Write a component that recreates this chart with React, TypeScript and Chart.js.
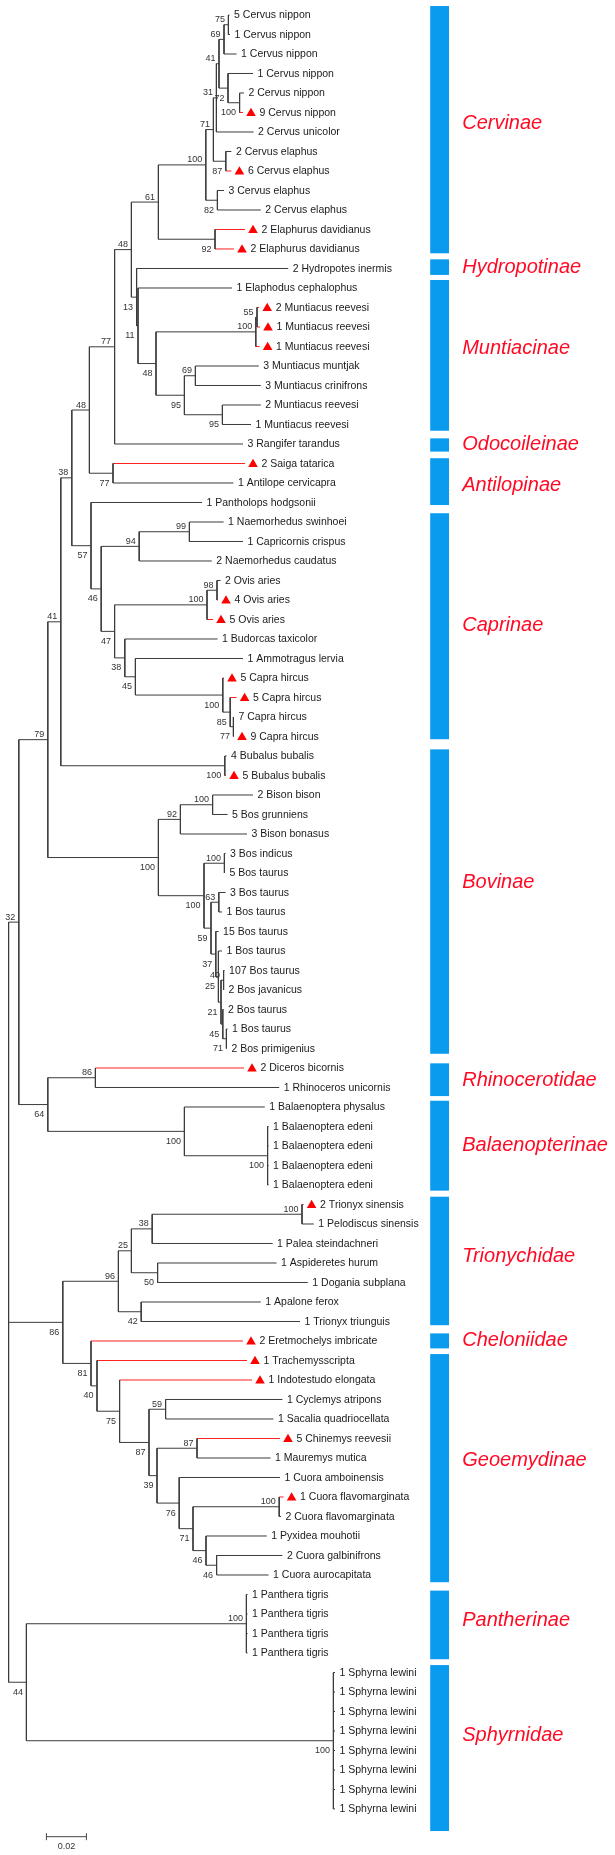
import React, { useEffect, useRef } from "react";
import { Chart, registerables } from "chart.js";
Chart.register(...registerables);

// ---------- DATA ----------
const leafNames: string[] = [
  "5 Cervus nippon", "1 Cervus nippon", "1 Cervus nippon", "1 Cervus nippon", "2 Cervus nippon",
  "9 Cervus nippon", "2 Cervus unicolor", "2 Cervus elaphus", "6 Cervus elaphus", "3 Cervus elaphus",
  "2 Cervus elaphus", "2 Elaphurus davidianus", "2 Elaphurus davidianus", "2 Hydropotes inermis",
  "1 Elaphodus cephalophus", "2 Muntiacus reevesi", "1 Muntiacus reevesi", "1 Muntiacus reevesi",
  "3 Muntiacus muntjak", "3 Muntiacus crinifrons", "2 Muntiacus reevesi", "1 Muntiacus reevesi",
  "3 Rangifer tarandus", "2 Saiga tatarica", "1 Antilope cervicapra", "1 Pantholops hodgsonii",
  "1 Naemorhedus swinhoei", "1 Capricornis crispus", "2 Naemorhedus caudatus", "2 Ovis aries",
  "4 Ovis aries", "5 Ovis aries", "1 Budorcas taxicolor", "1 Ammotragus lervia", "5 Capra hircus",
  "5 Capra hircus", "7 Capra hircus", "9 Capra hircus", "4 Bubalus bubalis", "5 Bubalus bubalis",
  "2 Bison bison", "5 Bos grunniens", "3 Bison bonasus", "3 Bos indicus", "5 Bos taurus",
  "3 Bos taurus", "1 Bos taurus", "15 Bos taurus", "1 Bos taurus", "107 Bos taurus",
  "2 Bos javanicus", "2 Bos taurus", "1 Bos taurus", "2 Bos primigenius", "2 Diceros bicornis",
  "1 Rhinoceros unicornis", "1 Balaenoptera physalus", "1 Balaenoptera edeni", "1 Balaenoptera edeni",
  "1 Balaenoptera edeni", "1 Balaenoptera edeni", "2 Trionyx sinensis", "1 Pelodiscus sinensis",
  "1 Palea steindachneri", "1 Aspideretes hurum", "1 Dogania subplana", "1 Apalone ferox",
  "1 Trionyx triunguis", "2 Eretmochelys imbricate", "1 Trachemysscripta", "1 Indotestudo elongata",
  "1 Cyclemys atripons", "1 Sacalia quadriocellata", "5 Chinemys reevesii", "1 Mauremys mutica",
  "1 Cuora amboinensis", "1 Cuora flavomarginata", "2 Cuora flavomarginata", "1 Pyxidea mouhotii",
  "2 Cuora galbinifrons", "1 Cuora aurocapitata", "1 Panthera tigris", "1 Panthera tigris",
  "1 Panthera tigris", "1 Panthera tigris", "1 Sphyrna lewini", "1 Sphyrna lewini", "1 Sphyrna lewini",
  "1 Sphyrna lewini", "1 Sphyrna lewini", "1 Sphyrna lewini", "1 Sphyrna lewini", "1 Sphyrna lewini",
];

// distance from root (substitutions/site) at each leaf tip
const leafDepths: number[] = [
  0.1105, 0.1107, 0.1140, 0.1222, 0.1177, 0.1172, 0.1225, 0.1114, 0.1114, 0.1077,
  0.1261, 0.1182, 0.1127, 0.1398, 0.1117, 0.1253, 0.1257, 0.1255, 0.1251, 0.1261,
  0.1261, 0.1212, 0.1172, 0.1182, 0.1124, 0.0967, 0.1075, 0.1172, 0.1016, 0.1060,
  0.1047, 0.1022, 0.1045, 0.1172, 0.1077, 0.1140, 0.1127, 0.1127, 0.1090, 0.1087,
  0.1222, 0.1095, 0.1192, 0.1085, 0.1082, 0.1085, 0.1067, 0.1050, 0.1067, 0.1080,
  0.1077, 0.1075, 0.1095, 0.1092, 0.1177, 0.1353, 0.1281, 0.1300, 0.1300, 0.1300,
  0.1300, 0.1475, 0.1526, 0.1320, 0.1340, 0.1496, 0.1261, 0.1457, 0.1172, 0.1192,
  0.1217, 0.1369, 0.1324, 0.1357, 0.1310, 0.1357, 0.1375, 0.1362, 0.1291, 0.1369,
  0.1300, 0.1195, 0.1195, 0.1195, 0.1195, 0.1632, 0.1632, 0.1632, 0.1632, 0.1632,
  0.1632, 0.1632, 0.1632,
];

// leaves marked with a red triangle (and red terminal branch)
const markedLeaves: number[] = [5, 8, 11, 12, 15, 16, 17, 23, 30, 31, 34, 35, 37, 39, 54, 61, 68, 69, 70, 73, 76];

const nodeIds: string[] = [
  "root", "N32", "N79", "N41", "N38", "N48c", "N77a", "N48", "N61", "N100b",
  "N71", "N31", "N41c", "N69", "N75", "N72", "N100a", "N87", "N82", "N92",
  "N13", "N11", "N48b", "N100c", "N55", "N95a", "N69b", "N95b", "N77b", "N57",
  "N46", "N94", "N99", "N47", "N100d", "N98", "N38b", "N45", "N100e", "N85",
  "N77c", "N100f", "N100g", "N92b", "N100i", "N100h", "N100j", "N59", "N63", "N37",
  "N25", "N21", "N40", "N45b", "N71c", "N64", "N86", "N100l", "N100k", "N86b",
  "N96", "N25b", "N38c", "N100m", "N50", "N42", "N81", "N40b", "N75b", "N87b",
  "N59b", "N39", "N87c", "N76", "N71b", "N100n", "N46b", "N46c", "N44", "N100o",
  "N100p",
];

const nodeDepths: number[] = [
  0, 0.0051, 0.0196, 0.0261, 0.0316, 0.0404, 0.0530, 0.0614, 0.0749, 0.0986,
  0.1024, 0.1039, 0.1052, 0.1077, 0.1099, 0.1097, 0.1155, 0.1086, 0.1044, 0.1032,
  0.0640, 0.0647, 0.0737, 0.1236, 0.1242, 0.0879, 0.0934, 0.1069, 0.0522, 0.0412,
  0.0463, 0.0653, 0.0904, 0.0530, 0.0992, 0.1042, 0.0581, 0.0634, 0.1071, 0.1108,
  0.1124, 0.1081, 0.0749, 0.0859, 0.1020, 0.0977, 0.1079, 0.1012, 0.1051, 0.1036,
  0.1049, 0.1062, 0.1075, 0.1071, 0.1089, 0.0196, 0.0434, 0.0879, 0.1295, 0.0271,
  0.0549, 0.0614, 0.0718, 0.1467, 0.0745, 0.0663, 0.0412, 0.0442, 0.0555, 0.0702,
  0.0785, 0.0742, 0.0942, 0.0853, 0.0922, 0.1353, 0.0987, 0.1040, 0.0089, 0.1189,
  0.1624,
];

const nodeSupport: (number | null)[] = [
  null, 32, 79, 41, 38, 48, 77, 48, 61, 100,
  71, 31, 41, 69, 75, 72, 100, 87, 82, 92,
  13, 11, 48, 100, 55, 95, 69, 95, 77, 57,
  46, 94, 99, 47, 100, 98, 38, 45, 100, 85,
  77, 100, 100, 92, 100, 100, 100, 59, 63, 37,
  25, 21, 40, 45, 71, 64, 86, 100, 100, 86,
  96, 25, 38, 100, 50, 42, 81, 40, 75, 87,
  59, 39, 87, 76, 71, 100, 46, 46, 44, 100,
  100,
];

// children: numbers are leaf indices, strings are node ids
const nodeChildren: (number | string)[][] = [
  ["N32", "N86b", "N44"], ["N79", "N64"], ["N41", "N100g"], ["N38", "N100f"], ["N48c", "N57"],
  ["N77a", "N77b"], ["N48", 22], ["N61", "N13"], ["N100b", "N92"], ["N71", "N82"],
  ["N31", "N87"], ["N41c", 6], ["N69", "N72"], ["N75", 2], [0, 1],
  [3, "N100a"], [4, 5], [7, 8], [9, 10], [11, 12],
  [13, "N11"], [14, "N48b"], ["N100c", "N95a"], ["N55", 17], [15, 16],
  ["N69b", "N95b"], [18, 19], [20, 21], [23, 24], [25, "N46"],
  ["N94", "N47"], ["N99", 28], [26, 27], ["N100d", "N38b"], ["N98", 31],
  [29, 30], [32, "N45"], [33, "N100e"], [34, "N85"], [35, "N77c"],
  [36, 37], [38, 39], ["N92b", "N100h"], ["N100i", 42], [40, 41],
  ["N100j", "N59"], [43, 44], ["N63", "N37"], [45, 46], [47, "N25"],
  [48, "N21"], ["N40", "N45b"], [49, 50], [51, "N71c"], [52, 53],
  ["N86", "N100l"], [54, 55], [56, "N100k"], [57, 58, 59, 60], ["N96", "N81"],
  ["N25b", "N42"], ["N38c", "N50"], ["N100m", 63], [61, 62], [64, 65],
  [66, 67], [68, "N40b"], [69, "N75b"], [70, "N87b"], ["N59b", "N39"],
  [71, 72], ["N87c", "N76"], [73, 74], [75, "N71b"], ["N100n", "N46b"],
  [76, 77], [78, "N46c"], [79, 80], ["N100o", "N100p"], [81, 82, 83, 84],
  [85, 86, 87, 88, 89, 90, 91, 92],
];

const groupNames: string[] = [
  "Cervinae", "Hydropotinae", "Muntiacinae", "Odocoileinae", "Antilopinae", "Caprinae", "Bovinae",
  "Rhinocerotidae", "Balaenopterinae", "Trionychidae", "Cheloniidae", "Geoemydinae", "Pantherinae", "Sphyrnidae",
];
// group bar extents and label rows, in leaf-row units
const groupStart: number[] = [-0.46, 12.53, 13.59, 21.71, 22.73, 25.55, 37.66, 53.76, 55.68, 60.6, 67.61, 68.67, 80.8, 84.62];
const groupEnd: number[] = [12.22, 13.33, 21.32, 22.39, 25.13, 37.14, 53.27, 55.44, 60.29, 67.19, 68.38, 80.37, 84.32, 93.13];
const groupLabelRow: number[] = [5.55, 12.94, 17.09, 22.0, 24.1, 31.28, 44.5, 54.65, 57.95, 63.64, 67.95, 74.1, 82.34, 88.21];

const scaleBarLength = 0.02;
const scaleBarLabel = "0.02";

// ---------- LAYOUT HELPERS ----------
const X_MIN = -0.0043;
const X_MAX = 0.3032;
const Y_MIN = -0.7692;
const Y_MAX = 94.359;
const BAR_LEFT = 0.2108;
const BAR_RIGHT = 0.2202;
const GROUP_LABEL_X = 0.2268;
const SCALE_BAR_X = 0.0189;
const SCALE_BAR_ROW = 93.42;

const nodeIndex = new Map<string, number>(nodeIds.map((id, i) => [id, i]));
const markedSet = new Set<number>(markedLeaves);

function refDepth(ref: number | string): number {
  return typeof ref === "number" ? leafDepths[ref] : nodeDepths[nodeIndex.get(ref)!];
}
const yCache = new Map<string, number>();
function refRow(ref: number | string): number {
  if (typeof ref === "number") return ref;
  if (yCache.has(ref)) return yCache.get(ref)!;
  const ch = nodeChildren[nodeIndex.get(ref)!];
  const v = (refRow(ch[0]) + refRow(ch[ch.length - 1])) / 2;
  yCache.set(ref, v);
  return v;
}

function buildSegments() {
  const black: any[] = [];
  const red: any[] = [];
  nodeIds.forEach((id, i) => {
    const d = nodeDepths[i];
    const ch = nodeChildren[i];
    const y0 = refRow(ch[0]);
    const y1 = refRow(ch[ch.length - 1]);
    black.push({ x: d, y: y0 }, { x: d, y: y1 }, { x: d, y: null });
    ch.forEach((c) => {
      const yc = refRow(c);
      const target = typeof c === "number" && markedSet.has(c) ? red : black;
      target.push({ x: d, y: yc }, { x: refDepth(c), y: yc }, { x: d, y: null });
    });
  });
  return { black, red };
}

// which nodes are the first child of their parent (support label above)
const firstChild = new Set<string>();
nodeChildren.forEach((ch) => {
  if (typeof ch[0] === "string") firstChild.add(ch[0] as string);
});

const FONT = '"Liberation Sans", Arial, Helvetica, sans-serif';

const overlayPlugin = {
  id: "treeOverlay",
  afterDatasetsDraw(chart: any) {
    const ctx: CanvasRenderingContext2D = chart.ctx;
    const xs = chart.scales.x;
    const ys = chart.scales.y;
    const px = (v: number) => xs.getPixelForValue(v);
    const py = (v: number) => ys.getPixelForValue(v);
    ctx.save();

    // group bars
    ctx.fillStyle = "#0b9bee";
    groupNames.forEach((_, i) => {
      const t = py(groupStart[i]);
      const b = py(groupEnd[i]);
      ctx.fillRect(px(BAR_LEFT), t, px(BAR_RIGHT) - px(BAR_LEFT), b - t);
    });

    // group labels
    ctx.font = `italic 20px ${FONT}`;
    ctx.fillStyle = "#ff0a24";
    ctx.textAlign = "left";
    ctx.textBaseline = "middle";
    groupNames.forEach((g, i) => {
      ctx.fillText(g, px(GROUP_LABEL_X), py(groupLabelRow[i]));
    });

    // leaf labels & triangles
    ctx.font = `10.5px ${FONT}`;
    ctx.textBaseline = "middle";
    leafNames.forEach((name, i) => {
      const tx = px(leafDepths[i]);
      const ty = py(i);
      let textX = tx + 4.5;
      if (markedSet.has(i)) {
        const cx = tx + 8;
        ctx.fillStyle = "#ff0000";
        ctx.beginPath();
        ctx.moveTo(cx, ty - 4.8);
        ctx.lineTo(cx + 4.8, ty + 3.6);
        ctx.lineTo(cx - 4.8, ty + 3.6);
        ctx.closePath();
        ctx.fill();
        textX = tx + 16.5;
      }
      ctx.fillStyle = "#1a1a1a";
      ctx.fillText(name, textX, ty + 0.5);
    });

    // bootstrap support labels
    ctx.font = `9px ${FONT}`;
    ctx.fillStyle = "#333333";
    ctx.textAlign = "right";
    ctx.textBaseline = "alphabetic";
    nodeIds.forEach((id, i) => {
      const s = nodeSupport[i];
      if (s === null) return;
      const nx = px(nodeDepths[i]) - 3.5;
      const ny = py(refRow(id));
      const above = firstChild.has(id);
      ctx.fillText(String(s), nx, above ? ny - 2.5 : ny + 12.5);
    });

    // scale bar
    const sx0 = px(SCALE_BAR_X);
    const sx1 = px(SCALE_BAR_X + scaleBarLength);
    const sy = py(SCALE_BAR_ROW);
    ctx.strokeStyle = "#444444";
    ctx.lineWidth = 1;
    ctx.beginPath();
    ctx.moveTo(sx0, sy);
    ctx.lineTo(sx1, sy);
    ctx.moveTo(sx0, sy - 3.5);
    ctx.lineTo(sx0, sy + 3.5);
    ctx.moveTo(sx1, sy - 3.5);
    ctx.lineTo(sx1, sy + 3.5);
    ctx.stroke();
    ctx.font = `9px ${FONT}`;
    ctx.fillStyle = "#333333";
    ctx.textAlign = "center";
    ctx.textBaseline = "middle";
    ctx.fillText(scaleBarLabel, (sx0 + sx1) / 2, sy + 9.5);

    ctx.restore();
  },
};

export default function App() {
  const canvasRef = useRef<HTMLCanvasElement | null>(null);
  useEffect(() => {
    if (!canvasRef.current) return;
    const { black, red } = buildSegments();
    const chart = new Chart(canvasRef.current, {
      type: "scatter",
      data: {
        datasets: [
          {
            data: black,
            showLine: true,
            borderColor: "#3c3c3c",
            borderWidth: 1,
            pointRadius: 0,
            spanGaps: false,
            tension: 0,
          } as any,
          {
            data: red,
            showLine: true,
            borderColor: "#ff2020",
            borderWidth: 1,
            pointRadius: 0,
            spanGaps: false,
            tension: 0,
          } as any,
        ],
      },
      options: {
        animation: false,
        responsive: false,
        devicePixelRatio: 1,
        events: [],
        layout: { padding: 0 },
        plugins: { legend: { display: false }, tooltip: { enabled: false } },
        scales: {
          x: { type: "linear", min: X_MIN, max: X_MAX, display: false },
          y: { type: "linear", min: Y_MIN, max: Y_MAX, reverse: true, display: false },
        },
      },
      plugins: [overlayPlugin],
    });
    return () => chart.destroy();
  }, []);
  return (
    <div style={{ position: "absolute", left: 0, top: 0, width: 615, height: 1855, background: "#ffffff" }}>
      <canvas ref={canvasRef} width={615} height={1855} />
    </div>
  );
}
